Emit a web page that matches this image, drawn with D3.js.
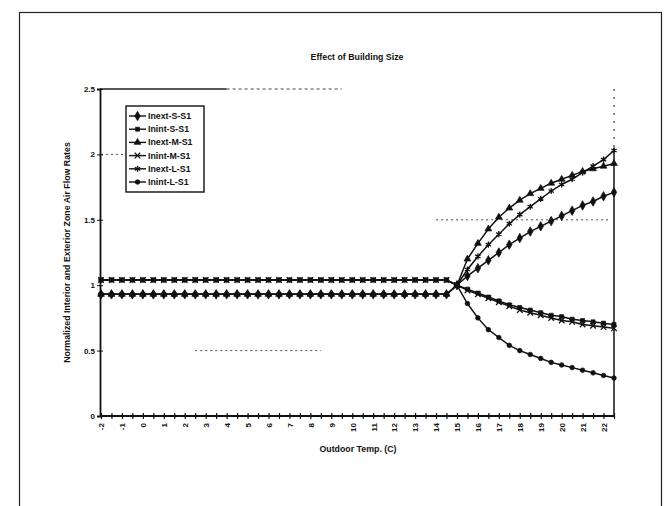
<!DOCTYPE html>
<html>
<head>
<meta charset="utf-8">
<script src="https://cdn.jsdelivr.net/npm/d3@7"></script>
<style>
  html, body { margin: 0; padding: 0; background: #fff; }
  svg { display: block; }
  text { font-family: "Liberation Sans", Arial, sans-serif; font-weight: bold; fill: #111; }
</style>
</head>
<body>
<svg id="chart" width="664" height="506"></svg>
<script>
// Outdoor temperature categories (C), half-degree steps
const temps = [-2, -1.5, -1, -0.5, 0, 0.5, 1, 1.5, 2, 2.5, 3, 3.5, 4, 4.5, 5, 5.5,
  6, 6.5, 7, 7.5, 8, 8.5, 9, 9.5, 10, 10.5, 11, 11.5, 12, 12.5, 13, 13.5,
  14, 14.5, 15, 15.5, 16, 16.5, 17, 17.5, 18, 18.5, 19, 19.5, 20, 20.5,
  21, 21.5, 22, 22.5];

// Normalized zone air flow rates per series
const inextS = [0.93, 0.93, 0.93, 0.93, 0.93, 0.93, 0.93, 0.93, 0.93, 0.93, 0.93, 0.93, 0.93, 0.93, 0.93, 0.93, 0.93,
  0.93, 0.93, 0.93, 0.93, 0.93, 0.93, 0.93, 0.93, 0.93, 0.93, 0.93, 0.93, 0.93, 0.93, 0.93, 0.93, 0.93,
  1.00, 1.07, 1.13, 1.19, 1.25, 1.31, 1.36, 1.41, 1.45, 1.49, 1.53, 1.57, 1.61, 1.64, 1.68, 1.71];
const inintS = [1.04, 1.04, 1.04, 1.04, 1.04, 1.04, 1.04, 1.04, 1.04, 1.04, 1.04, 1.04, 1.04, 1.04, 1.04, 1.04, 1.04,
  1.04, 1.04, 1.04, 1.04, 1.04, 1.04, 1.04, 1.04, 1.04, 1.04, 1.04, 1.04, 1.04, 1.04, 1.04, 1.04, 1.04,
  1.00, 0.97, 0.94, 0.91, 0.88, 0.85, 0.83, 0.81, 0.79, 0.77, 0.76, 0.74, 0.73, 0.72, 0.71, 0.70];
const inextM = [0.93, 0.93, 0.93, 0.93, 0.93, 0.93, 0.93, 0.93, 0.93, 0.93, 0.93, 0.93, 0.93, 0.93, 0.93, 0.93, 0.93,
  0.93, 0.93, 0.93, 0.93, 0.93, 0.93, 0.93, 0.93, 0.93, 0.93, 0.93, 0.93, 0.93, 0.93, 0.93, 0.93, 0.93,
  1.00, 1.20, 1.32, 1.43, 1.52, 1.59, 1.65, 1.70, 1.74, 1.78, 1.81, 1.84, 1.87, 1.89, 1.91, 1.93];
const inintM = [1.04, 1.04, 1.04, 1.04, 1.04, 1.04, 1.04, 1.04, 1.04, 1.04, 1.04, 1.04, 1.04, 1.04, 1.04, 1.04, 1.04,
  1.04, 1.04, 1.04, 1.04, 1.04, 1.04, 1.04, 1.04, 1.04, 1.04, 1.04, 1.04, 1.04, 1.04, 1.04, 1.04, 1.04,
  1.00, 0.96, 0.93, 0.90, 0.87, 0.84, 0.81, 0.79, 0.77, 0.75, 0.73, 0.72, 0.70, 0.69, 0.68, 0.67];
const inextL = [0.93, 0.93, 0.93, 0.93, 0.93, 0.93, 0.93, 0.93, 0.93, 0.93, 0.93, 0.93, 0.93, 0.93, 0.93, 0.93, 0.93,
  0.93, 0.93, 0.93, 0.93, 0.93, 0.93, 0.93, 0.93, 0.93, 0.93, 0.93, 0.93, 0.93, 0.93, 0.93, 0.93, 0.93,
  1.00, 1.12, 1.22, 1.31, 1.39, 1.47, 1.54, 1.60, 1.66, 1.72, 1.77, 1.81, 1.86, 1.91, 1.96, 2.03];
const inintL = [1.04, 1.04, 1.04, 1.04, 1.04, 1.04, 1.04, 1.04, 1.04, 1.04, 1.04, 1.04, 1.04, 1.04, 1.04, 1.04, 1.04,
  1.04, 1.04, 1.04, 1.04, 1.04, 1.04, 1.04, 1.04, 1.04, 1.04, 1.04, 1.04, 1.04, 1.04, 1.04, 1.04, 1.04,
  1.00, 0.86, 0.75, 0.66, 0.60, 0.54, 0.50, 0.47, 0.44, 0.41, 0.39, 0.37, 0.35, 0.33, 0.31, 0.29];

const seriesNames = ["Inext-S-S1", "Inint-S-S1", "Inext-M-S1", "Inint-M-S1", "Inext-L-S1", "Inint-L-S1"];
const seriesValues = [inextS, inintS, inextM, inintM, inextL, inintL];
const markerShapes = ["diamond", "square", "triangle", "cross", "star", "circle"];

const yTicks = [0, 0.5, 1, 1.5, 2, 2.5];

const titleText = "Effect of Building Size";
const xTitleText = "Outdoor Temp. (C)";
const yTitleText = "Normalized Interior and Exterior Zone Air Flow Rates";

// Faint remains of the major gridlines: value and the temperature span where visible
const gridValues = [2, 1.5, 0.5];
const gridFrom = [-2, 14, 2.5];
const gridTo = [-0.8, 22.3, 8.5];

const svg = d3.select("#chart");

// page frame
svg.append("rect")
  .attr("x", 19.5).attr("y", 12.5).attr("width", 642).attr("height", 520)
  .attr("fill", "none").attr("stroke", "#222").attr("stroke-width", 1.2);

const plot = { left: 100, right: 614, top: 89, bottom: 416 };

const x = d3.scalePoint().domain(temps).range([plot.left + 1, plot.right]);
const y = d3.scaleLinear().domain([0, 2.5]).range([plot.bottom, plot.top]);

// gridline remnants
const xLin = d3.scaleLinear().domain([temps[0], temps[temps.length - 1]]).range([plot.left + 1, plot.right]);
gridValues.forEach((v, i) => {
  svg.append("line")
    .attr("x1", xLin(gridFrom[i])).attr("x2", xLin(gridTo[i]))
    .attr("y1", y(v)).attr("y2", y(v))
    .attr("stroke", "#555").attr("stroke-width", 1)
    .attr("stroke-dasharray", "2,3");
});

// plot frame: top and right edges
svg.append("line")
  .attr("x1", plot.left).attr("x2", xLin(4)).attr("y1", y(2.5)).attr("y2", y(2.5))
  .attr("stroke", "#222").attr("stroke-width", 1.3);
svg.append("line")
  .attr("x1", xLin(4)).attr("x2", xLin(9.5)).attr("y1", y(2.5)).attr("y2", y(2.5))
  .attr("stroke", "#444").attr("stroke-width", 1.2).attr("stroke-dasharray", "3,3");
svg.append("line")
  .attr("x1", plot.right).attr("x2", plot.right).attr("y1", y(2.5)).attr("y2", y(2.05))
  .attr("stroke", "#444").attr("stroke-width", 1.2).attr("stroke-dasharray", "2,6");
svg.append("line")
  .attr("x1", plot.right).attr("x2", plot.right).attr("y1", y(2.05)).attr("y2", y(0))
  .attr("stroke", "#222").attr("stroke-width", 1.6);

// y axis
const yAxis = svg.append("g")
  .attr("transform", `translate(${plot.left},0)`)
  .call(d3.axisLeft(y).tickValues(yTicks).tickSize(3).tickFormat(d3.format("")));
yAxis.select(".domain").attr("stroke", "#111").attr("stroke-width", 1.8);
yAxis.selectAll(".tick line").attr("x1", -3).attr("x2", 3).attr("stroke", "#111");
yAxis.selectAll(".tick text").attr("x", -5).attr("font-size", 8)
  .attr("font-family", "Liberation Sans, Arial, sans-serif").attr("font-weight", "bold").attr("fill", "#111");

// x axis
const xAxis = svg.append("g")
  .attr("transform", `translate(0,${plot.bottom})`)
  .call(d3.axisBottom(x).tickSizeOuter(0).tickSize(3)
    .tickFormat((d, i) => (i % 2 === 0 ? d : "")));
xAxis.select(".domain").attr("stroke", "#111").attr("stroke-width", 1.8)
  .attr("d", `M${plot.left},0H${plot.right}`);
xAxis.selectAll(".tick line").attr("y1", -3).attr("y2", 3).attr("stroke", "#111").attr("stroke-width", 1.2);
xAxis.selectAll(".tick text")
  .attr("transform", "rotate(-90)")
  .attr("x", -7).attr("y", 0).attr("dy", "0.35em")
  .attr("text-anchor", "end")
  .attr("font-size", 8)
  .attr("font-family", "Liberation Sans, Arial, sans-serif").attr("font-weight", "bold").attr("fill", "#111");

// series lines
const line = d3.line().x((d, i) => x(temps[i])).y(d => y(d));
const symbolType = {
  diamond: d3.symbolDiamond, square: d3.symbolSquare, triangle: d3.symbolTriangle,
  cross: d3.symbolX, star: d3.symbolAsterisk, circle: d3.symbolCircle
};
const symbolSize = { diamond: 26, square: 16, triangle: 20, cross: 22, star: 26, circle: 17 };

function drawMarker(g, shape, cx, cy) {
  const open = shape === "cross" || shape === "star";
  g.append("path")
    .attr("d", d3.symbol().type(symbolType[shape]).size(symbolSize[shape])())
    .attr("transform", `translate(${cx},${cy})`)
    .attr("fill", open ? "none" : "#111")
    .attr("stroke", "#111").attr("stroke-width", open ? 1.3 : 0.7);
}

seriesValues.forEach((vals, s) => {
  const g = svg.append("g");
  g.append("path").datum(vals)
    .attr("d", line).attr("fill", "none")
    .attr("stroke", "#111").attr("stroke-width", 1.5);
  vals.forEach((v, i) => drawMarker(g, markerShapes[s], x(temps[i]), y(v)));
});

// legend
const legend = svg.append("g").attr("transform", "translate(126,106)");
legend.append("rect").attr("width", 78).attr("height", 86)
  .attr("fill", "#fff").attr("stroke", "#111").attr("stroke-width", 1.4);
seriesNames.forEach((name, i) => {
  const ly = 10 + i * 13.2;
  legend.append("line").attr("x1", 3).attr("x2", 20).attr("y1", ly).attr("y2", ly)
    .attr("stroke", "#111").attr("stroke-width", 1.4);
  drawMarker(legend, markerShapes[i], 11.5, ly);
  legend.append("text").attr("x", 22).attr("y", ly).attr("dy", "0.35em")
    .attr("font-size", 8.8).text(name);
});

// titles
svg.append("text").attr("x", 357).attr("y", 60).attr("text-anchor", "middle")
  .attr("font-size", 8.8).text(titleText);
svg.append("text").attr("x", 358).attr("y", 452).attr("text-anchor", "middle")
  .attr("font-size", 8.8).text(xTitleText);
svg.append("text")
  .attr("transform", `translate(70,${(plot.top + plot.bottom) / 2}) rotate(-90)`)
  .attr("text-anchor", "middle").attr("font-size", 8.8).text(yTitleText);
</script>
</body>
</html>
